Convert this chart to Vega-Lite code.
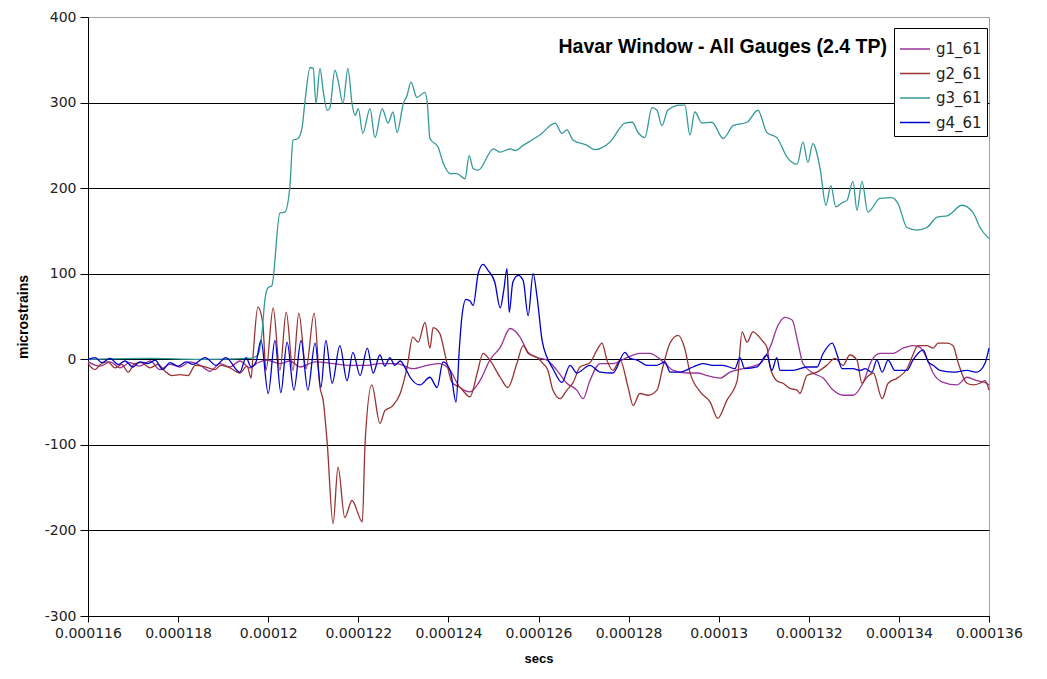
{
"$schema": "https://vega.github.io/schema/vega-lite/v6.json",
"width": 901, "height": 599,
"autosize": "none",
"padding": {"left": 88, "top": 17, "right": 58, "bottom": 63},
"background": "white",
"config": {"view": {"stroke": "#a0a0a0", "strokeWidth": 1}, "font": "Liberation Sans"},
"title": {"text": "Havar Window - All Gauges (2.4 TP)", "anchor": "end", "frame": "group", "orient": "top", "offset": -47, "dx": -102, "fontSize": 19.5, "fontWeight": "bold", "font": "Liberation Sans", "color": "black"},
"data": {"values": [
{"g":"g1_61","t":116.00,"v":-3},{"g":"g1_61","t":116.27,"v":-8},{"g":"g1_61","t":116.49,"v":-3},{"g":"g1_61","t":116.71,"v":-10},{"g":"g1_61","t":116.93,"v":-4},{"g":"g1_61","t":117.15,"v":-8},{"g":"g1_61","t":117.38,"v":-2},{"g":"g1_61","t":117.60,"v":-12},{"g":"g1_61","t":117.82,"v":-6},{"g":"g1_61","t":118.04,"v":-9},{"g":"g1_61","t":118.26,"v":-3},{"g":"g1_61","t":118.49,"v":-7},{"g":"g1_61","t":118.71,"v":-14},{"g":"g1_61","t":118.93,"v":-5},{"g":"g1_61","t":119.15,"v":-9},{"g":"g1_61","t":119.37,"v":-2},{"g":"g1_61","t":119.60,"v":-10},{"g":"g1_61","t":119.77,"v":-4},{"g":"g1_61","t":119.97,"v":-1},{"g":"g1_61","t":120.26,"v":-5},{"g":"g1_61","t":120.48,"v":-2},{"g":"g1_61","t":120.71,"v":-9},{"g":"g1_61","t":121.04,"v":-3},{"g":"g1_61","t":121.44,"v":-5},{"g":"g1_61","t":121.82,"v":-7},{"g":"g1_61","t":122.20,"v":-7},{"g":"g1_61","t":122.48,"v":-5},{"g":"g1_61","t":122.86,"v":-5},{"g":"g1_61","t":123.21,"v":-11},{"g":"g1_61","t":123.53,"v":-7},{"g":"g1_61","t":123.81,"v":-5},{"g":"g1_61","t":124.04,"v":-13},{"g":"g1_61","t":124.26,"v":-33},{"g":"g1_61","t":124.48,"v":-38},{"g":"g1_61","t":124.70,"v":-25},{"g":"g1_61","t":124.92,"v":-1},{"g":"g1_61","t":125.15,"v":14},{"g":"g1_61","t":125.37,"v":36},{"g":"g1_61","t":125.59,"v":26},{"g":"g1_61","t":125.77,"v":8},{"g":"g1_61","t":125.97,"v":2},{"g":"g1_61","t":126.19,"v":-1},{"g":"g1_61","t":126.41,"v":-13},{"g":"g1_61","t":126.63,"v":-28},{"g":"g1_61","t":126.85,"v":-36},{"g":"g1_61","t":126.99,"v":-46},{"g":"g1_61","t":127.14,"v":-25},{"g":"g1_61","t":127.37,"v":-5},{"g":"g1_61","t":127.65,"v":-5},{"g":"g1_61","t":127.96,"v":2},{"g":"g1_61","t":128.25,"v":7},{"g":"g1_61","t":128.48,"v":7},{"g":"g1_61","t":128.65,"v":2},{"g":"g1_61","t":128.85,"v":-7},{"g":"g1_61","t":128.99,"v":-13},{"g":"g1_61","t":129.30,"v":-16},{"g":"g1_61","t":129.52,"v":-16},{"g":"g1_61","t":129.74,"v":-19},{"g":"g1_61","t":130.03,"v":-22},{"g":"g1_61","t":130.25,"v":-15},{"g":"g1_61","t":130.54,"v":-11},{"g":"g1_61","t":130.92,"v":-5},{"g":"g1_61","t":131.14,"v":14},{"g":"g1_61","t":131.32,"v":40},{"g":"g1_61","t":131.47,"v":49},{"g":"g1_61","t":131.63,"v":46},{"g":"g1_61","t":131.76,"v":19},{"g":"g1_61","t":131.87,"v":-5},{"g":"g1_61","t":132.09,"v":-16},{"g":"g1_61","t":132.32,"v":-22},{"g":"g1_61","t":132.54,"v":-36},{"g":"g1_61","t":132.76,"v":-42},{"g":"g1_61","t":132.98,"v":-42},{"g":"g1_61","t":133.20,"v":-28},{"g":"g1_61","t":133.40,"v":-1},{"g":"g1_61","t":133.58,"v":7},{"g":"g1_61","t":133.87,"v":7},{"g":"g1_61","t":134.09,"v":13},{"g":"g1_61","t":134.31,"v":16},{"g":"g1_61","t":134.47,"v":14},{"g":"g1_61","t":134.62,"v":1},{"g":"g1_61","t":134.76,"v":-16},{"g":"g1_61","t":134.98,"v":-27},{"g":"g1_61","t":135.29,"v":-30},{"g":"g1_61","t":135.51,"v":-21},{"g":"g1_61","t":135.73,"v":-25},{"g":"g1_61","t":135.91,"v":-27},{"g":"g1_61","t":136.00,"v":-30},
{"g":"g2_61","t":116.00,"v":-5},{"g":"g2_61","t":116.16,"v":-12},{"g":"g2_61","t":116.27,"v":-6},{"g":"g2_61","t":116.44,"v":-3},{"g":"g2_61","t":116.60,"v":-10},{"g":"g2_61","t":116.75,"v":-6},{"g":"g2_61","t":116.89,"v":-15},{"g":"g2_61","t":117.04,"v":-5},{"g":"g2_61","t":117.18,"v":-4},{"g":"g2_61","t":117.38,"v":-10},{"g":"g2_61","t":117.55,"v":-6},{"g":"g2_61","t":117.71,"v":-14},{"g":"g2_61","t":117.86,"v":-19},{"g":"g2_61","t":118.04,"v":-18},{"g":"g2_61","t":118.22,"v":-19},{"g":"g2_61","t":118.38,"v":-7},{"g":"g2_61","t":118.60,"v":-9},{"g":"g2_61","t":118.82,"v":-12},{"g":"g2_61","t":118.95,"v":-7},{"g":"g2_61","t":119.15,"v":-10},{"g":"g2_61","t":119.37,"v":-16},{"g":"g2_61","t":119.53,"v":-8},{"g":"g2_61","t":119.62,"v":-22},{"g":"g2_61","t":119.66,"v":2},{"g":"g2_61","t":119.77,"v":61},{"g":"g2_61","t":119.88,"v":42},{"g":"g2_61","t":119.95,"v":-13},{"g":"g2_61","t":120.11,"v":60},{"g":"g2_61","t":120.26,"v":-13},{"g":"g2_61","t":120.40,"v":55},{"g":"g2_61","t":120.55,"v":-13},{"g":"g2_61","t":120.68,"v":54},{"g":"g2_61","t":120.84,"v":-11},{"g":"g2_61","t":121.02,"v":54},{"g":"g2_61","t":121.15,"v":-33},{"g":"g2_61","t":121.22,"v":-48},{"g":"g2_61","t":121.31,"v":-98},{"g":"g2_61","t":121.44,"v":-192},{"g":"g2_61","t":121.55,"v":-126},{"g":"g2_61","t":121.70,"v":-185},{"g":"g2_61","t":121.86,"v":-165},{"g":"g2_61","t":122.09,"v":-190},{"g":"g2_61","t":122.15,"v":-98},{"g":"g2_61","t":122.30,"v":-30},{"g":"g2_61","t":122.48,"v":-75},{"g":"g2_61","t":122.59,"v":-60},{"g":"g2_61","t":122.75,"v":-55},{"g":"g2_61","t":122.93,"v":-40},{"g":"g2_61","t":123.08,"v":-10},{"g":"g2_61","t":123.21,"v":26},{"g":"g2_61","t":123.33,"v":20},{"g":"g2_61","t":123.48,"v":43},{"g":"g2_61","t":123.59,"v":13},{"g":"g2_61","t":123.66,"v":37},{"g":"g2_61","t":123.81,"v":30},{"g":"g2_61","t":123.92,"v":7},{"g":"g2_61","t":124.08,"v":-27},{"g":"g2_61","t":124.26,"v":-33},{"g":"g2_61","t":124.48,"v":-44},{"g":"g2_61","t":124.64,"v":-16},{"g":"g2_61","t":124.77,"v":7},{"g":"g2_61","t":124.92,"v":-1},{"g":"g2_61","t":125.15,"v":-21},{"g":"g2_61","t":125.32,"v":-33},{"g":"g2_61","t":125.52,"v":-5},{"g":"g2_61","t":125.66,"v":16},{"g":"g2_61","t":125.77,"v":7},{"g":"g2_61","t":125.97,"v":2},{"g":"g2_61","t":126.10,"v":-5},{"g":"g2_61","t":126.21,"v":-13},{"g":"g2_61","t":126.32,"v":-36},{"g":"g2_61","t":126.48,"v":-46},{"g":"g2_61","t":126.63,"v":-36},{"g":"g2_61","t":126.77,"v":-27},{"g":"g2_61","t":126.92,"v":-9},{"g":"g2_61","t":127.14,"v":-4},{"g":"g2_61","t":127.30,"v":11},{"g":"g2_61","t":127.41,"v":19},{"g":"g2_61","t":127.52,"v":-1},{"g":"g2_61","t":127.65,"v":-13},{"g":"g2_61","t":127.81,"v":-1},{"g":"g2_61","t":127.99,"v":-33},{"g":"g2_61","t":128.10,"v":-54},{"g":"g2_61","t":128.25,"v":-40},{"g":"g2_61","t":128.43,"v":-42},{"g":"g2_61","t":128.63,"v":-36},{"g":"g2_61","t":128.76,"v":-9},{"g":"g2_61","t":128.92,"v":19},{"g":"g2_61","t":129.10,"v":28},{"g":"g2_61","t":129.25,"v":12},{"g":"g2_61","t":129.36,"v":-15},{"g":"g2_61","t":129.59,"v":-38},{"g":"g2_61","t":129.81,"v":-50},{"g":"g2_61","t":129.98,"v":-69},{"g":"g2_61","t":130.18,"v":-48},{"g":"g2_61","t":130.41,"v":-25},{"g":"g2_61","t":130.52,"v":32},{"g":"g2_61","t":130.63,"v":20},{"g":"g2_61","t":130.76,"v":32},{"g":"g2_61","t":130.96,"v":22},{"g":"g2_61","t":131.07,"v":14},{"g":"g2_61","t":131.14,"v":-9},{"g":"g2_61","t":131.29,"v":-25},{"g":"g2_61","t":131.43,"v":-28},{"g":"g2_61","t":131.58,"v":-34},{"g":"g2_61","t":131.74,"v":-36},{"g":"g2_61","t":131.80,"v":-40},{"g":"g2_61","t":131.96,"v":-19},{"g":"g2_61","t":132.18,"v":-15},{"g":"g2_61","t":132.40,"v":-7},{"g":"g2_61","t":132.58,"v":1},{"g":"g2_61","t":132.76,"v":-7},{"g":"g2_61","t":132.91,"v":5},{"g":"g2_61","t":133.07,"v":-1},{"g":"g2_61","t":133.18,"v":-28},{"g":"g2_61","t":133.29,"v":-21},{"g":"g2_61","t":133.43,"v":-16},{"g":"g2_61","t":133.63,"v":-46},{"g":"g2_61","t":133.76,"v":-28},{"g":"g2_61","t":133.96,"v":-22},{"g":"g2_61","t":134.18,"v":-11},{"g":"g2_61","t":134.31,"v":5},{"g":"g2_61","t":134.42,"v":16},{"g":"g2_61","t":134.62,"v":16},{"g":"g2_61","t":134.76,"v":13},{"g":"g2_61","t":134.87,"v":19},{"g":"g2_61","t":135.07,"v":19},{"g":"g2_61","t":135.20,"v":16},{"g":"g2_61","t":135.31,"v":-3},{"g":"g2_61","t":135.51,"v":-28},{"g":"g2_61","t":135.65,"v":-30},{"g":"g2_61","t":135.80,"v":-28},{"g":"g2_61","t":135.91,"v":-25},{"g":"g2_61","t":136.00,"v":-36},
{"g":"g3_61","t":116.00,"v":0},{"g":"g3_61","t":117.38,"v":1},{"g":"g3_61","t":118.49,"v":0},{"g":"g3_61","t":119.60,"v":1},{"g":"g3_61","t":119.77,"v":5},{"g":"g3_61","t":119.86,"v":30},{"g":"g3_61","t":119.93,"v":71},{"g":"g3_61","t":120.00,"v":84},{"g":"g3_61","t":120.08,"v":86},{"g":"g3_61","t":120.26,"v":171},{"g":"g3_61","t":120.37,"v":172},{"g":"g3_61","t":120.48,"v":201},{"g":"g3_61","t":120.55,"v":256},{"g":"g3_61","t":120.66,"v":258},{"g":"g3_61","t":120.75,"v":270},{"g":"g3_61","t":120.82,"v":303},{"g":"g3_61","t":120.93,"v":341},{"g":"g3_61","t":121.00,"v":340},{"g":"g3_61","t":121.06,"v":299},{"g":"g3_61","t":121.15,"v":340},{"g":"g3_61","t":121.22,"v":314},{"g":"g3_61","t":121.31,"v":291},{"g":"g3_61","t":121.37,"v":294},{"g":"g3_61","t":121.48,"v":338},{"g":"g3_61","t":121.55,"v":326},{"g":"g3_61","t":121.66,"v":299},{"g":"g3_61","t":121.77,"v":340},{"g":"g3_61","t":121.86,"v":299},{"g":"g3_61","t":121.93,"v":285},{"g":"g3_61","t":122.00,"v":293},{"g":"g3_61","t":122.10,"v":264},{"g":"g3_61","t":122.26,"v":293},{"g":"g3_61","t":122.37,"v":259},{"g":"g3_61","t":122.53,"v":293},{"g":"g3_61","t":122.66,"v":276},{"g":"g3_61","t":122.77,"v":289},{"g":"g3_61","t":122.86,"v":265},{"g":"g3_61","t":123.00,"v":299},{"g":"g3_61","t":123.08,"v":308},{"g":"g3_61","t":123.17,"v":324},{"g":"g3_61","t":123.30,"v":306},{"g":"g3_61","t":123.48,"v":312},{"g":"g3_61","t":123.53,"v":300},{"g":"g3_61","t":123.59,"v":258},{"g":"g3_61","t":123.77,"v":248},{"g":"g3_61","t":123.88,"v":230},{"g":"g3_61","t":124.04,"v":217},{"g":"g3_61","t":124.19,"v":217},{"g":"g3_61","t":124.37,"v":211},{"g":"g3_61","t":124.46,"v":238},{"g":"g3_61","t":124.55,"v":223},{"g":"g3_61","t":124.66,"v":221},{"g":"g3_61","t":125.00,"v":246},{"g":"g3_61","t":125.15,"v":242},{"g":"g3_61","t":125.37,"v":246},{"g":"g3_61","t":125.48,"v":244},{"g":"g3_61","t":125.66,"v":250},{"g":"g3_61","t":126.03,"v":262},{"g":"g3_61","t":126.37,"v":276},{"g":"g3_61","t":126.52,"v":264},{"g":"g3_61","t":126.63,"v":268},{"g":"g3_61","t":126.77,"v":256},{"g":"g3_61","t":127.08,"v":250},{"g":"g3_61","t":127.25,"v":245},{"g":"g3_61","t":127.59,"v":254},{"g":"g3_61","t":127.92,"v":276},{"g":"g3_61","t":128.08,"v":277},{"g":"g3_61","t":128.21,"v":265},{"g":"g3_61","t":128.36,"v":259},{"g":"g3_61","t":128.52,"v":294},{"g":"g3_61","t":128.63,"v":291},{"g":"g3_61","t":128.74,"v":273},{"g":"g3_61","t":128.87,"v":291},{"g":"g3_61","t":129.14,"v":297},{"g":"g3_61","t":129.25,"v":297},{"g":"g3_61","t":129.36,"v":262},{"g":"g3_61","t":129.47,"v":289},{"g":"g3_61","t":129.63,"v":276},{"g":"g3_61","t":129.85,"v":277},{"g":"g3_61","t":130.10,"v":258},{"g":"g3_61","t":130.32,"v":273},{"g":"g3_61","t":130.63,"v":277},{"g":"g3_61","t":130.87,"v":291},{"g":"g3_61","t":131.07,"v":265},{"g":"g3_61","t":131.29,"v":259},{"g":"g3_61","t":131.52,"v":236},{"g":"g3_61","t":131.74,"v":228},{"g":"g3_61","t":131.87,"v":254},{"g":"g3_61","t":131.98,"v":230},{"g":"g3_61","t":132.09,"v":252},{"g":"g3_61","t":132.25,"v":223},{"g":"g3_61","t":132.38,"v":180},{"g":"g3_61","t":132.49,"v":203},{"g":"g3_61","t":132.60,"v":178},{"g":"g3_61","t":132.74,"v":183},{"g":"g3_61","t":132.85,"v":186},{"g":"g3_61","t":132.98,"v":208},{"g":"g3_61","t":133.07,"v":174},{"g":"g3_61","t":133.18,"v":208},{"g":"g3_61","t":133.31,"v":172},{"g":"g3_61","t":133.58,"v":188},{"g":"g3_61","t":133.85,"v":189},{"g":"g3_61","t":133.98,"v":182},{"g":"g3_61","t":134.18,"v":154},{"g":"g3_61","t":134.40,"v":151},{"g":"g3_61","t":134.62,"v":154},{"g":"g3_61","t":134.85,"v":166},{"g":"g3_61","t":135.09,"v":168},{"g":"g3_61","t":135.40,"v":180},{"g":"g3_61","t":135.65,"v":171},{"g":"g3_61","t":135.80,"v":154},{"g":"g3_61","t":136.00,"v":141},
{"g":"g4_61","t":116.00,"v":0},{"g":"g4_61","t":116.16,"v":2},{"g":"g4_61","t":116.31,"v":-4},{"g":"g4_61","t":116.49,"v":1},{"g":"g4_61","t":116.67,"v":-6},{"g":"g4_61","t":116.82,"v":-2},{"g":"g4_61","t":117.00,"v":-9},{"g":"g4_61","t":117.15,"v":-3},{"g":"g4_61","t":117.33,"v":-5},{"g":"g4_61","t":117.49,"v":-1},{"g":"g4_61","t":117.66,"v":-12},{"g":"g4_61","t":117.82,"v":-4},{"g":"g4_61","t":118.00,"v":-8},{"g":"g4_61","t":118.18,"v":-3},{"g":"g4_61","t":118.33,"v":-6},{"g":"g4_61","t":118.60,"v":2},{"g":"g4_61","t":118.84,"v":-7},{"g":"g4_61","t":119.06,"v":2},{"g":"g4_61","t":119.37,"v":-15},{"g":"g4_61","t":119.51,"v":2},{"g":"g4_61","t":119.62,"v":-9},{"g":"g4_61","t":119.73,"v":-3},{"g":"g4_61","t":119.84,"v":22},{"g":"g4_61","t":120.00,"v":-40},{"g":"g4_61","t":120.15,"v":22},{"g":"g4_61","t":120.28,"v":-39},{"g":"g4_61","t":120.42,"v":20},{"g":"g4_61","t":120.57,"v":-36},{"g":"g4_61","t":120.73,"v":22},{"g":"g4_61","t":120.88,"v":-36},{"g":"g4_61","t":121.04,"v":19},{"g":"g4_61","t":121.17,"v":-33},{"g":"g4_61","t":121.28,"v":22},{"g":"g4_61","t":121.42,"v":-28},{"g":"g4_61","t":121.59,"v":16},{"g":"g4_61","t":121.75,"v":-25},{"g":"g4_61","t":121.88,"v":8},{"g":"g4_61","t":122.04,"v":-19},{"g":"g4_61","t":122.20,"v":13},{"g":"g4_61","t":122.33,"v":-16},{"g":"g4_61","t":122.48,"v":5},{"g":"g4_61","t":122.59,"v":-8},{"g":"g4_61","t":122.70,"v":2},{"g":"g4_61","t":122.81,"v":-7},{"g":"g4_61","t":122.93,"v":-2},{"g":"g4_61","t":123.04,"v":-10},{"g":"g4_61","t":123.15,"v":-21},{"g":"g4_61","t":123.37,"v":-30},{"g":"g4_61","t":123.59,"v":-21},{"g":"g4_61","t":123.75,"v":-33},{"g":"g4_61","t":123.88,"v":-3},{"g":"g4_61","t":124.04,"v":-13},{"g":"g4_61","t":124.17,"v":-50},{"g":"g4_61","t":124.24,"v":10},{"g":"g4_61","t":124.30,"v":50},{"g":"g4_61","t":124.39,"v":70},{"g":"g4_61","t":124.48,"v":68},{"g":"g4_61","t":124.55,"v":63},{"g":"g4_61","t":124.66,"v":100},{"g":"g4_61","t":124.77,"v":111},{"g":"g4_61","t":124.88,"v":104},{"g":"g4_61","t":125.03,"v":90},{"g":"g4_61","t":125.15,"v":60},{"g":"g4_61","t":125.23,"v":81},{"g":"g4_61","t":125.30,"v":106},{"g":"g4_61","t":125.35,"v":55},{"g":"g4_61","t":125.43,"v":90},{"g":"g4_61","t":125.55,"v":98},{"g":"g4_61","t":125.66,"v":92},{"g":"g4_61","t":125.77,"v":51},{"g":"g4_61","t":125.88,"v":100},{"g":"g4_61","t":125.97,"v":72},{"g":"g4_61","t":126.08,"v":22},{"g":"g4_61","t":126.19,"v":2},{"g":"g4_61","t":126.32,"v":-11},{"g":"g4_61","t":126.52,"v":-27},{"g":"g4_61","t":126.70,"v":-7},{"g":"g4_61","t":126.85,"v":-16},{"g":"g4_61","t":127.14,"v":-7},{"g":"g4_61","t":127.37,"v":-15},{"g":"g4_61","t":127.65,"v":-16},{"g":"g4_61","t":127.92,"v":8},{"g":"g4_61","t":128.03,"v":1},{"g":"g4_61","t":128.19,"v":-1},{"g":"g4_61","t":128.41,"v":-7},{"g":"g4_61","t":128.63,"v":-7},{"g":"g4_61","t":128.81,"v":-3},{"g":"g4_61","t":128.92,"v":-15},{"g":"g4_61","t":129.14,"v":-15},{"g":"g4_61","t":129.43,"v":-9},{"g":"g4_61","t":129.65,"v":-5},{"g":"g4_61","t":129.87,"v":-7},{"g":"g4_61","t":130.10,"v":-7},{"g":"g4_61","t":130.36,"v":-11},{"g":"g4_61","t":130.47,"v":2},{"g":"g4_61","t":130.58,"v":-11},{"g":"g4_61","t":130.85,"v":-9},{"g":"g4_61","t":131.07,"v":5},{"g":"g4_61","t":131.18,"v":-13},{"g":"g4_61","t":131.29,"v":2},{"g":"g4_61","t":131.36,"v":-13},{"g":"g4_61","t":131.65,"v":-13},{"g":"g4_61","t":131.96,"v":-9},{"g":"g4_61","t":132.18,"v":-9},{"g":"g4_61","t":132.32,"v":7},{"g":"g4_61","t":132.52,"v":19},{"g":"g4_61","t":132.63,"v":5},{"g":"g4_61","t":132.74,"v":-11},{"g":"g4_61","t":132.98,"v":-11},{"g":"g4_61","t":133.14,"v":-13},{"g":"g4_61","t":133.25,"v":-11},{"g":"g4_61","t":133.40,"v":-15},{"g":"g4_61","t":133.51,"v":-1},{"g":"g4_61","t":133.63,"v":-15},{"g":"g4_61","t":133.76,"v":-1},{"g":"g4_61","t":133.91,"v":-13},{"g":"g4_61","t":134.18,"v":-13},{"g":"g4_61","t":134.31,"v":-1},{"g":"g4_61","t":134.54,"v":11},{"g":"g4_61","t":134.65,"v":-3},{"g":"g4_61","t":134.76,"v":-7},{"g":"g4_61","t":134.91,"v":-13},{"g":"g4_61","t":135.20,"v":-15},{"g":"g4_61","t":135.51,"v":-13},{"g":"g4_61","t":135.73,"v":-15},{"g":"g4_61","t":135.91,"v":-5},{"g":"g4_61","t":136.00,"v":13}
]},
"mark": {"type": "line", "interpolate": "monotone", "strokeWidth": 1.3},
"encoding": {
  "x": {"field": "t", "type": "quantitative",
    "scale": {"domain": [116, 136], "nice": false, "zero": false},
    "axis": {"title": "secs", "values": [116,118,120,122,124,126,128,130,132,134,136],
      "labelExpr": "format(datum.value/1000000, '~g')", "grid": false, "labelOverlap": false, "labelFlush": false,
      "domainColor": "black", "tickColor": "black", "tickSize": 6, "labelPadding": 4,
      "labelFont": "DejaVu Sans", "labelFontSize": 14, "labelColor": "#222", "labelFontWeight": "normal",
      "titleFont": "Liberation Sans", "titleFontSize": 13, "titleFontWeight": "bold", "titleColor": "black", "titlePadding": 12}},
  "y": {"field": "v", "type": "quantitative",
    "scale": {"domain": [-300, 400], "nice": false, "zero": false},
    "axis": {"title": "microstrains", "values": [-300,-200,-100,0,100,200,300,400],
      "labelExpr": "toString(datum.value)", "labelOverlap": false, "labelFlush": false,
      "grid": true, "gridColor": {"condition": {"test": "datum.value === 400", "value": "rgba(0,0,0,0)"}, "value": "black"}, "gridWidth": 1, "gridOpacity": 1,
      "domainColor": "black", "tickColor": "black", "tickSize": 8, "labelPadding": 4,
      "labelFont": "DejaVu Sans", "labelFontSize": 14, "labelColor": "#222",
      "titleFont": "Liberation Sans", "titleFontSize": 14, "titleFontWeight": "bold", "titleColor": "black", "titlePadding": 14}},
  "color": {"field": "g", "type": "nominal",
    "scale": {"domain": ["g1_61","g2_61","g3_61","g4_61"], "range": ["#993399","#993333","#339999","#0000cc"]},
    "legend": {"title": null, "orient": "none", "legendX": 806, "legendY": 11,
      "strokeColor": "black", "fillColor": "white", "padding": 5,
      "symbolType": "stroke", "symbolSize": 900, "symbolStrokeWidth": 1.5, "rowPadding": 0.5,
      "labelFont": "DejaVu Sans", "labelFontSize": 15, "labelColor": "#222", "labelOffset": 5}}
}
}
